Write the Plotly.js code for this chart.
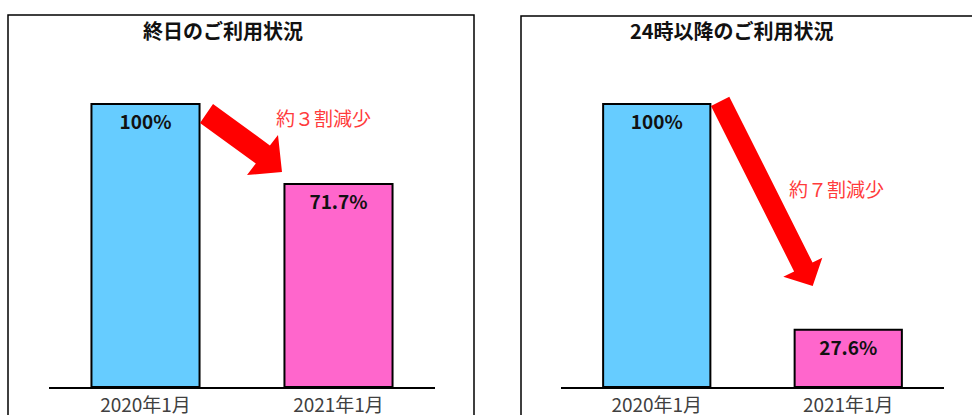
<!DOCTYPE html>
<html>
<head>
<meta charset="utf-8">
<script src="https://cdn.plot.ly/plotly-3.0.1.min.js"></script>
<style>html,body{margin:0;padding:0;background:#fff;}#chart{width:972px;height:415px;}</style>
</head>
<body>
<div id="chart"></div>
<script>
// ---- data ----
const categories = ["2020年1月", "2021年1月"];
const allDayValues = [100, 71.7];
const allDayLabels = ["100%", "71.7%"];
const lateNightValues = [100, 20.2];
const lateNightLabels = ["100%", "27.6%"];
const panelTitles = ["終日のご利用状況", "24時以降のご利用状況"];
const reductionNotes = ["約３割減少", "約７割減少"];
const barColors = ["#66ccff", "#ff66cc"];

// ---- geometry helpers (pixel -> paper) ----
const W = 972, H = 415;
const px = x => x / W;
const py = y => 1 - y / H;
const baseY = 387, topPx = 104;             // pixel y of 0 and 100
const domTopPx = 45;
const yMax = 100 * (baseY - domTopPx) / (baseY - topPx);

function polyPath(pts) {
  return pts.map((p, i) => (i ? "L" : "M") + px(p[0]).toFixed(5) + "," + py(p[1]).toFixed(5)).join(" ") + " Z";
}

const font = "Noto Sans CJK JP, Noto Sans, sans-serif";

function barTrace(vals, labels, xa, ya) {
  return {
    type: "bar", x: categories, y: vals, xaxis: xa, yaxis: ya,
    text: labels, textposition: "inside", insidetextanchor: "end",
    constraintext: "none", cliponaxis: false,
    textfont: {family: font, size: 19, color: "#111", weight: "bold"},
    marker: {color: barColors, line: {color: "#000", width: 2}},
    width: 0.56, hoverinfo: "skip", showlegend: false
  };
}

const data = [
  barTrace(allDayValues, allDayLabels, "x", "y"),
  barTrace(lateNightValues, lateNightLabels, "x2", "y2")
];

const xCommon = {
  type: "category", showline: true, linecolor: "#000", linewidth: 2,
  ticks: "", showgrid: false, zeroline: false, fixedrange: true,
  tickfont: {family: font, size: 19, color: "#404040"}
};
const yCommon = {
  range: [0, yMax], showgrid: false, zeroline: false, showticklabels: false,
  showline: false, fixedrange: true, domain: [py(baseY), py(domTopPx)]
};

const arrow1 = [[213,104],[269.9,145.4],[278,135],[282,172],[247,175],[255.8,163.6],[200,123]];
const arrow2 = [[729.3,96.7],[812.5,262.5],[822.3,257.7],[812.7,286],[783.3,276.7],[794.1,271.4],[711,106]];

const layout = {
  width: W, height: H,
  margin: {l: 0, r: 0, t: 0, b: 0},
  paper_bgcolor: "#fff", plot_bgcolor: "rgba(0,0,0,0)",
  bargap: 0.44,
  xaxis: Object.assign({}, xCommon, {domain: [px(49), px(435)], anchor: "y"}),
  yaxis: Object.assign({}, yCommon, {anchor: "x"}),
  xaxis2: Object.assign({}, xCommon, {domain: [px(561), px(944)], anchor: "y2"}),
  yaxis2: Object.assign({}, yCommon, {anchor: "x2"}),
  shapes: [
    {type: "rect", xref: "paper", yref: "paper", x0: px(8), x1: px(474), y0: -0.2, y1: py(15),
     line: {color: "#000", width: 1.5}, fillcolor: "rgba(0,0,0,0)", layer: "below"},
    {type: "rect", xref: "paper", yref: "paper", x0: px(521), x1: 1.2, y0: -0.2, y1: py(16),
     line: {color: "#000", width: 1.5}, fillcolor: "rgba(0,0,0,0)", layer: "below"},
    {type: "path", xref: "paper", yref: "paper", path: polyPath(arrow1), fillcolor: "#ff0000", line: {width: 0}},
    {type: "path", xref: "paper", yref: "paper", path: polyPath(arrow2), fillcolor: "#ff0000", line: {width: 0}}
  ],
  annotations: [
    {xref: "paper", yref: "paper", x: px(223), y: py(30), text: panelTitles[0], showarrow: false,
     xanchor: "center", yanchor: "middle", font: {family: font, size: 20, color: "#111", weight: "bold"}},
    {xref: "paper", yref: "paper", x: px(732), y: py(31), text: panelTitles[1], showarrow: false,
     xanchor: "center", yanchor: "middle", font: {family: font, size: 20, color: "#111", weight: "bold"}},
    {xref: "paper", yref: "paper", x: px(323), y: py(117), text: reductionNotes[0], showarrow: false,
     xanchor: "center", yanchor: "middle", font: {family: font, size: 19, color: "#ff3b3b"}},
    {xref: "paper", yref: "paper", x: px(836), y: py(188), text: reductionNotes[1], showarrow: false,
     xanchor: "center", yanchor: "middle", font: {family: font, size: 19, color: "#ff3b3b"}}
  ]
};

Plotly.newPlot("chart", data, layout, {staticPlot: true, displayModeBar: false});
</script>
</body>
</html>
